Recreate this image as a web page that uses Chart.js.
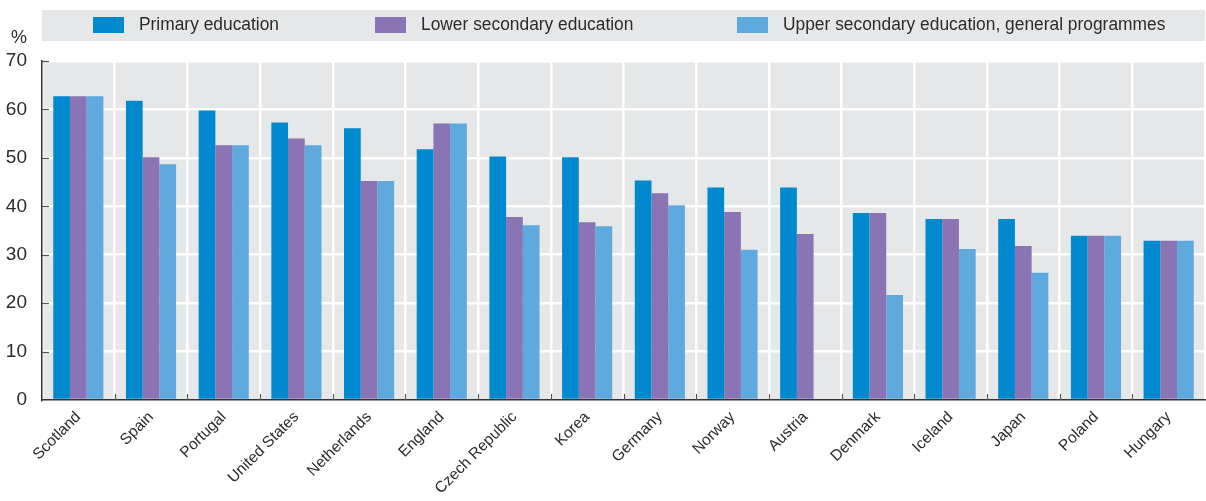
<!DOCTYPE html>
<html>
<head>
<meta charset="utf-8">
<script src="https://cdn.jsdelivr.net/npm/chart.js@4"></script>
<style>
  html, body { margin: 0; padding: 0; background: #fff; }
  #wrap { width: 1206px; height: 501px; position: relative; }
</style>
</head>
<body>
<div id="wrap"><canvas id="eduChart"></canvas></div>
<script>
// countries, sorted by primary education
var countries = ["Scotland", "Spain", "Portugal", "United States", "Netherlands", "England",
  "Czech Republic", "Korea", "Germany", "Norway", "Austria", "Denmark", "Iceland", "Japan",
  "Poland", "Hungary"];
var primary = [62.7, 61.8, 59.8, 57.3, 56.1, 51.8, 50.3, 50.1, 45.3, 43.9, 43.9, 38.6, 37.4, 37.4, 33.9, 32.9];
var lowerSecondary = [62.7, 50.1, 52.6, 54.0, 45.2, 57.1, 37.8, 36.7, 42.7, 38.8, 34.3, 38.6, 37.4, 31.8, 33.9, 32.9];
var upperSecondary = [62.7, 48.7, 52.6, 52.6, 45.2, 57.1, 36.1, 35.9, 40.2, 31.0, null, 21.7, 31.2, 26.3, 33.9, 32.9];
var yTicks = [0, 10, 20, 30, 40, 50, 60, 70];

var FONT = "'Liberation Sans Narrow', 'Arial Narrow', 'Liberation Sans', sans-serif";
var TEXT = "#2b2b2b";
var colors = ["#0089cf", "#8a74b4", "#5ea9dd"];

// grey plot background + inner tick marks
var bgPlugin = {
  id: "bg",
  beforeDraw: function (chart) {
    var c = chart.ctx, a = chart.chartArea;
    c.save();
    c.fillStyle = "#e6e7e9";
    c.fillRect(a.left, a.top, a.right - a.left, a.bottom - a.top);
    c.restore();
  },
  afterDraw: function (chart) {
    var c = chart.ctx, a = chart.chartArea;
    var y = chart.scales.y, x = chart.scales.x;
    c.save();
    c.strokeStyle = "#555";
    c.lineWidth = 1.2;
    yTicks.forEach(function (v) {
      if (v === 0) return;
      var py = Math.round(y.getPixelForValue(v)) + 0.5;
      c.beginPath();
      c.moveTo(a.left, py);
      c.lineTo(a.left + 7, py);
      c.stroke();
    });
    for (var i = 1; i < countries.length; i++) {
      var px = Math.round((x.getPixelForValue(i - 1) + x.getPixelForValue(i)) / 2) + 0.5;
      c.beginPath();
      c.moveTo(px, a.bottom);
      c.lineTo(px, a.bottom - 6);
      c.stroke();
    }
    // percent sign
    c.fillStyle = TEXT;
    c.font = "18px " + FONT;
    c.textAlign = "left";
    c.textBaseline = "middle";
    c.fillText("%", 11, 38);
    c.restore();
  }
};

// legend in a grey band at the top
var legendPlugin = {
  id: "topLegend",
  afterDraw: function (chart) {
    var c = chart.ctx;
    var a = chart.chartArea;
    var xs = [93, 375, 737];
    c.save();
    c.fillStyle = "#e6e7e9";
    c.fillRect(a.left, 10, a.right - a.left, 31);
    c.font = "18px " + FONT;
    c.textBaseline = "middle";
    c.textAlign = "left";
    chart.data.datasets.forEach(function (ds, i) {
      c.fillStyle = ds.backgroundColor;
      c.fillRect(xs[i], 17, 31, 16);
      c.fillStyle = TEXT;
      c.save();
      c.translate(xs[i] + 46, 25);
      c.scale(0.965, 1);
      c.fillText(ds.label, 0, 0);
      c.restore();
    });
    c.restore();
  }
};

var ctx = document.getElementById("eduChart").getContext("2d");
var eduChart = new Chart(ctx, {
  type: "bar",
  data: {
    labels: countries,
    datasets: [
      { label: "Primary education", data: primary, backgroundColor: colors[0] },
      { label: "Lower secondary education", data: lowerSecondary, backgroundColor: colors[1] },
      { label: "Upper secondary education, general programmes", data: upperSecondary, backgroundColor: colors[2] }
    ]
  },
  options: {
    responsive: true,
    maintainAspectRatio: false,
    animation: false,
    datasets: { bar: { categoryPercentage: 0.69, barPercentage: 1.0 } },
    layout: { padding: { top: 61, right: 1, left: 0, bottom: 0 } },
    plugins: { legend: { display: false }, tooltip: { enabled: false } },
    scales: {
      x: {
        grid: { color: "#ffffff", lineWidth: 2.5, drawTicks: false },
        border: { color: "#333", width: 1.5 },
        ticks: {
          color: TEXT, font: { family: FONT, size: 15.5 },
          minRotation: 45, maxRotation: 45, padding: 8
        },
        afterFit: function (s) { s.height = 101; }
      },
      y: {
        min: 0, max: 70,
        grid: { color: "#ffffff", lineWidth: 2.5, drawTicks: false },
        border: { color: "#333", width: 1.5 },
        ticks: {
          stepSize: 10, color: TEXT, padding: 15,
          font: { family: FONT, size: 19 }
        },
        afterFit: function (s) { s.width = 42; }
      }
    }
  },
  plugins: [bgPlugin, legendPlugin]
});
</script>
</body>
</html>
